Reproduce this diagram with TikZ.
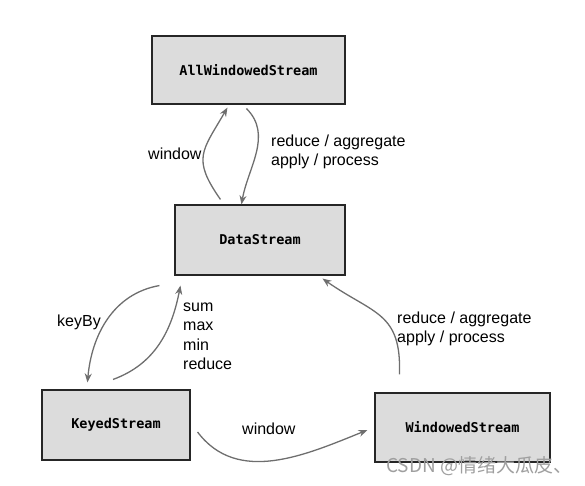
\documentclass[tikz,border=0pt]{standalone}
\usepackage{fontspec}
\setmainfont{Liberation Sans}
\newfontfamily\boxfont{DejaVu Sans Mono}
\newfontfamily\cjk{Noto Sans CJK SC}
\usetikzlibrary{arrows.meta}
\definecolor{boxgray}{HTML}{DCDCDC}
\definecolor{arrowgray}{HTML}{6E6E6E}
\begin{document}
\begin{tikzpicture}[x=1pt,y=1pt,
  stream/.style={draw=black!85,line width=1.1pt,fill=boxgray,inner sep=0pt,font=\boxfont\bfseries\fontsize{13.5}{16}\selectfont},
  flow/.style={draw=arrowgray,line width=1.3pt,-{Stealth[length=9pt,width=7pt]}},
  lbl/.style={inner sep=0pt,anchor=base west,align=left,font=\fontsize{16}{19.5}\selectfont}]
\useasboundingbox (0,0) rectangle (585,486);
\node[stream,minimum width=193,minimum height=68] (aws) at (248.5,416) {AllWindowedStream};
\node[stream,minimum width=170,minimum height=70] (ds) at (260,246) {DataStream};
\node[stream,minimum width=148,minimum height=70] (ks) at (116,61) {KeyedStream};
\node[stream,minimum width=175,minimum height=69] (ws) at (462.5,58.5) {WindowedStream};
\draw[flow] ([xshift=46,yshift=5]ds.north west) to[out=125,in=240,looseness=1.4] ([xshift=76,yshift=-3]aws.south west);
\draw[flow] ([xshift=95,yshift=-4]aws.south west) to[out=-45,in=80] ([xshift=67]ds.north west);
\draw[flow] ([xshift=-15,yshift=-10]ds.south west) to[out=190,in=85] ([xshift=46,yshift=7]ks.north west);
\draw[flow] ([xshift=-3,yshift=10]ks.north) to[out=20,in=-101] ([xshift=6,yshift=-10]ds.south west);
\draw[flow] ([xshift=25,yshift=18]ws.north west) to[out=88,in=-35,looseness=1.3] ([xshift=148,yshift=-3]ds.south west);
\draw[flow] ([xshift=7,yshift=-7]ks.east) to[out=-53,in=-158] ([xshift=-7,yshift=-2.5]ws.west);
\node[lbl] (lwin) at (148,326) {window};
\node[lbl] (lred) at (271,320) {reduce / aggregate\\apply / process};
\node[lbl] (lkey) at (57,159) {keyBy};
\node[lbl] (lsum) at (183,116) {sum\\max\\min\\reduce};
\node[lbl] (lred2) at (397,143) {reduce / aggregate\\apply / process};
\node[lbl] (lwin2) at (242,51) {window};
\node[anchor=base west,inner sep=0pt,text=gray!75,font=\cjk\fontsize{19}{22}\selectfont] (mark) at (386,13) {CSDN @情绪大瓜皮、};
\end{tikzpicture}
\end{document}
